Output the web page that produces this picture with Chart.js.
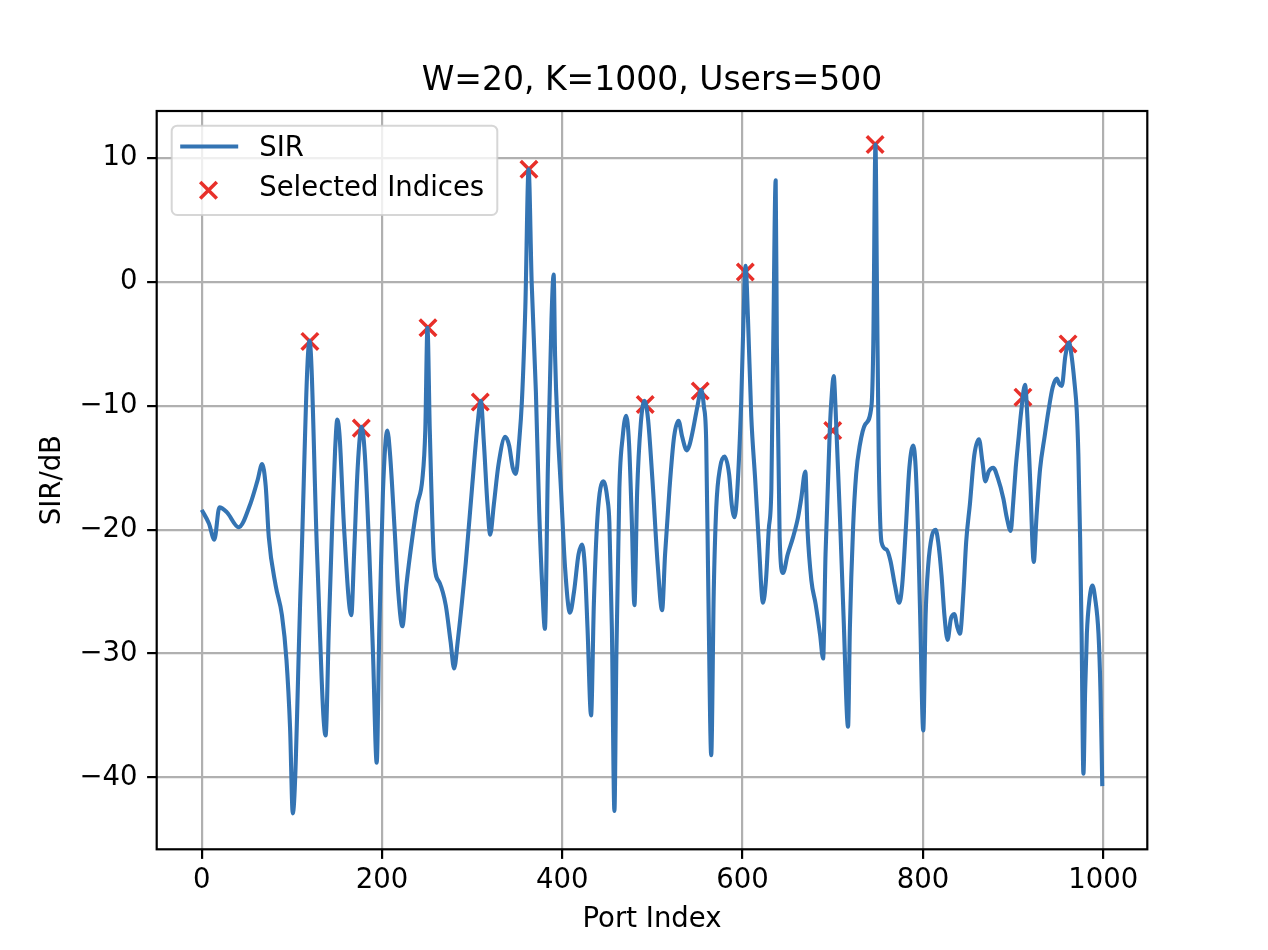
<!DOCTYPE html>
<html><head><meta charset="utf-8">
<script src="https://cdn.jsdelivr.net/npm/chart.js@4.4.1/dist/chart.umd.min.js"></script>
<style>html,body{margin:0;padding:0;background:#fff;overflow:hidden;} #wrap{width:1268px;height:950px;}</style>
</head><body><div id="wrap"><canvas id="c" width="1268" height="950"></canvas></div>
<script>
const chartTitle = 'W=20, K=1000, Users=500';
const xAxisLabel = 'Port Index';
const yAxisLabel = 'SIR/dB';
const seriesName = 'SIR';
const selectedName = 'Selected Indices';

const portIndex = [0,8,14,19.6,28,41,54,62,67,71,74.4,82,89,94,98,101,110,119.6,128,137.4,141,145,148,150.4,153,158,165.9,169,173,177.4,181,186,190,194.1,197,201,205.9,209,214,218,222.6,227,233.7,239,244.8,248,250.4,253,257.8,264,270.7,276,280,284,293,300,306,309.6,313,317,320,324,329.3,336.7,341,345,348.5,352,355.2,359,362.6,366,370.7,374.4,378,380.7,384,388,390.4,392,395,398.5,403,408.5,413,418,421.9,425,428,431.9,435,439,445.6,450,452.2,455,457.8,460,463.3,467,470.8,474,477,480,483,487,491.1,495,500,506,510.7,514,518.9,524,528.9,533,538.1,541,544.8,550,554.1,557,559.6,562,565.2,568,570.8,575,580,585,588,591.1,594,598.5,601,603.3,606,609.6,614,618,622.6,626,629,631.9,634,636.7,638,641.1,644.8,650,656,661.5,665,669.6,672,676.3,681,686,689.3,692,696.7,699,701.1,703,704.1,708,712,717,719,722.6,726,730,736,743,745,747.4,749,751,754.1,759.6,764,769,773.7,777,781,785,789.3,792,794.8,797,800.4,803,805.9,810,814.1,817,820.7,824,827.4,831,834.8,838,841.1,845,848,852.2,857,862.2,866,869.3,873,878.1,883,889.3,893,897.4,900,903,905.9,909,913.3,916,919,923,926,930,935,939.3,944,948.5,951,954.1,958,962.2,965,968,970.7,972.5,974.4,976,978.1,980,981.9,985,988.1,991,994.8,997,999];
const sirDb = [-18.4,-19.5,-20.8,-18.2,-18.6,-19.8,-17.9,-16.0,-14.7,-16.5,-20.6,-24.5,-26.9,-30.5,-36,-42.9,-24,-4.75,-22,-36.6,-28,-19,-13.5,-11.1,-12.5,-20,-26.9,-22,-15,-11.7,-14,-22,-30,-38.8,-28,-17,-12.0,-14,-20,-25,-27.8,-24.5,-20.6,-18,-15.9,-12,-3.7,-12,-22.6,-24.3,-26.1,-29,-31.2,-29,-22.6,-16.5,-11.5,-9.6,-13,-18,-20.4,-18,-14.7,-12.5,-13.2,-15,-15.5,-13,-9.6,-2,9.1,0,-8.9,-18.6,-25,-28.0,-15,-3,0.6,-6,-12,-16.7,-23,-26.7,-25,-22,-21.2,-23,-28,-35.0,-26,-19,-16.1,-17.5,-19.4,-28,-42.7,-30,-16.7,-12.5,-10.8,-13,-19,-26.1,-17,-11.5,-9.6,-11,-16,-23,-26.5,-22,-16.7,-12.5,-11.2,-12.5,-13.6,-13.2,-12.0,-10,-8.7,-10,-12.8,-25,-38.2,-25,-18.2,-15,-14.1,-15.5,-18,-19.0,-17,-9.6,-3,1.3,-3,-10.8,-16,-21,-25.9,-24,-20,-16.7,-5,8.2,-5,-20.6,-23.5,-22,-20.6,-19.0,-17.5,-15.3,-20,-24.1,-26,-28.5,-30.4,-22,-12.0,-9,-7.6,-10,-12,-19,-27,-35.9,-28,-19.8,-15.5,-13.2,-11.5,-10.0,-5,11.1,0,-14,-21.0,-21.6,-22.5,-24.5,-25.9,-24.5,-20,-15,-13.2,-15,-20.6,-27,-36.2,-27,-22.9,-20.5,-20.0,-21,-23.7,-27,-28.9,-27.2,-26.8,-27.8,-28.4,-25,-21,-17.9,-14,-12.7,-14.5,-16.1,-15.3,-15.0,-15.8,-17.5,-19,-20.1,-18,-15,-12.8,-10.5,-8.3,-11,-16,-22.6,-19,-15.1,-12.5,-10.4,-8.5,-7.8,-8.2,-8.4,-6,-4.9,-6,-8,-10.4,-14,-20.6,-28,-39.7,-33,-28.4,-25.5,-24.5,-25.5,-28.4,-33,-40.7];

const selectedPorts = [120,177,251,309,363,492,553,603,700,747,911,961];
const selectedSir = [-4.8,-11.8,-3.7,-9.7,9.1,-9.9,-8.8,0.8,-12.0,11.1,-9.3,-5.0];

const xTicks = [0,200,400,600,800,1000];
const yTicks = [-40,-30,-20,-10,0,10];
const xRange = [-49.95, 1048.95];
const yRange = [-45.8, 13.8];

const LINE_COLOR = '#3474b3';
const MARK_COLOR = '#e8302a';
const FONT = "'DejaVu Sans', 'Liberation Sans', sans-serif";

Chart.defaults.font.family = FONT;
Chart.defaults.color = '#000';

const fmt = v => (v < 0 ? '\u2212' + Math.abs(v) : String(v));

const frameAndLegend = {
  id: 'frameAndLegend',
  afterDatasetsDraw(chart) {
    const ctx = chart.ctx, a = chart.chartArea;
    ctx.save();
    ctx.strokeStyle = '#000';
    ctx.lineWidth = 2.2;
    ctx.strokeRect(a.left, a.top, a.right - a.left, a.bottom - a.top);
    const lx = a.left + 15, ly = a.top + 14.7, lw = 325.6, lh = 89.3, r = 5.5;
    ctx.beginPath();
    ctx.moveTo(lx + r, ly);
    ctx.lineTo(lx + lw - r, ly);
    ctx.arcTo(lx + lw, ly, lx + lw, ly + r, r);
    ctx.lineTo(lx + lw, ly + lh - r);
    ctx.arcTo(lx + lw, ly + lh, lx + lw - r, ly + lh, r);
    ctx.lineTo(lx + r, ly + lh);
    ctx.arcTo(lx, ly + lh, lx, ly + lh - r, r);
    ctx.lineTo(lx, ly + r);
    ctx.arcTo(lx, ly, lx + r, ly, r);
    ctx.closePath();
    ctx.fillStyle = 'rgba(255,255,255,0.8)';
    ctx.fill();
    ctx.strokeStyle = 'rgba(204,204,204,0.8)';
    ctx.lineWidth = 2;
    ctx.stroke();
    const ds = chart.data.datasets;
    ctx.strokeStyle = ds[0].borderColor;
    ctx.lineWidth = 4.1;
    ctx.beginPath();
    ctx.moveTo(lx + 8.5, ly + 20.8);
    ctx.lineTo(lx + 66.5, ly + 20.8);
    ctx.stroke();
    const cx = lx + 36.8, cy = ly + 64.5, d = 8.3;
    ctx.strokeStyle = ds[1].borderColor;
    ctx.lineWidth = 3.5;
    ctx.beginPath();
    ctx.moveTo(cx - d, cy - d); ctx.lineTo(cx + d, cy + d);
    ctx.moveTo(cx + d, cy - d); ctx.lineTo(cx - d, cy + d);
    ctx.stroke();
    ctx.fillStyle = '#000';
    ctx.font = '27.5px ' + FONT;
    ctx.textAlign = 'left';
    ctx.textBaseline = 'alphabetic';
    ctx.fillText(ds[0].label, lx + 87.5, ly + 30);
    ctx.fillText(ds[1].label, lx + 87.5, ly + 70.5);
    ctx.restore();
  }
};

new Chart(document.getElementById('c'), {
  type: 'line',
  data: {
    datasets: [
      {
        label: seriesName,
        data: portIndex.map((x, i) => ({x: x, y: sirDb[i]})),
        borderColor: LINE_COLOR,
        backgroundColor: LINE_COLOR,
        borderWidth: 4.1,
        borderJoinStyle: 'round',
        pointRadius: 0,
        pointHoverRadius: 0,
        cubicInterpolationMode: 'monotone',
        fill: false,
        order: 0
      },
      {
        type: 'scatter',
        label: selectedName,
        data: selectedPorts.map((x, i) => ({x: x, y: selectedSir[i]})),
        borderColor: MARK_COLOR,
        backgroundColor: MARK_COLOR,
        pointStyle: 'crossRot',
        pointRadius: 11.7,
        pointHoverRadius: 11.7,
        borderWidth: 3.5,
        order: 1
      }
    ]
  },
  options: {
    responsive: false,
    animation: false,
    devicePixelRatio: 1,
    layout: {padding: {left: 0, right: 120.7, top: 0, bottom: 0}},
    plugins: {
      legend: {display: false},
      tooltip: {enabled: false},
      title: {
        display: true,
        text: chartTitle,
        fullSize: false,
        color: '#000',
        font: {size: 33, weight: 'normal', family: FONT},
        padding: {top: 61.7, bottom: 9.7}
      }
    },
    scales: {
      x: {
        type: 'linear',
        min: xRange[0],
        max: xRange[1],
        afterBuildTicks: s => { s.ticks = xTicks.map(v => ({value: v})); },
        afterFit: s => { s.height = 100.7; },
        ticks: {
          autoSkip: false, maxRotation: 0, padding: 5.8, color: '#000',
          font: {size: 27.5, family: FONT},
          callback: v => fmt(v)
        },
        grid: {color: '#b0b0b0', lineWidth: 2.2, tickColor: '#000', tickWidth: 2.2, tickLength: 9.6, drawTicks: true},
        border: {display: false},
        title: {display: true, text: xAxisLabel, color: '#000', font: {size: 27.5, family: FONT}, padding: {top: 0, bottom: 14}}
      },
      y: {
        type: 'linear',
        min: yRange[0],
        max: yRange[1],
        afterBuildTicks: s => { s.ticks = yTicks.map(v => ({value: v})); },
        afterFit: s => { s.width = 156.7; },
        ticks: {
          autoSkip: false, padding: 9.6, color: '#000',
          font: {size: 27.5, family: FONT},
          callback: v => fmt(v)
        },
        grid: {color: '#b0b0b0', lineWidth: 2.2, tickColor: '#000', tickWidth: 2.2, tickLength: 9.6, drawTicks: true},
        border: {display: false},
        title: {display: true, text: yAxisLabel, color: '#000', font: {size: 27.5, family: FONT}, padding: {top: 36, bottom: 0}}
      }
    }
  },
  plugins: [frameAndLegend]
});
</script>
</body></html>
